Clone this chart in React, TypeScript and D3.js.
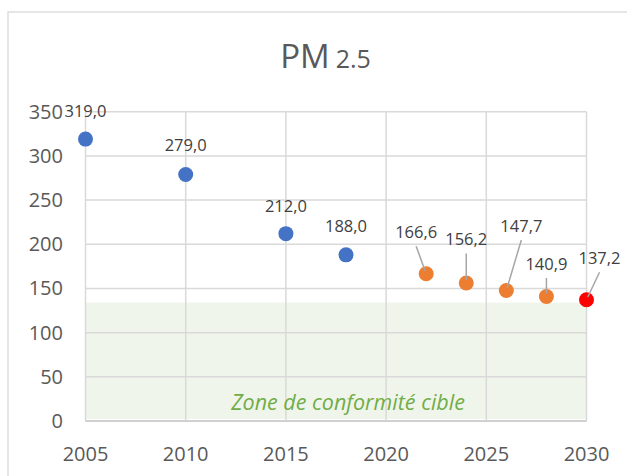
import React from "react";
import * as d3 from "d3";

const years = [2005, 2010, 2015, 2018, 2022, 2024, 2026, 2028, 2030];
const values = [319.0, 279.0, 212.0, 188.0, 166.6, 156.2, 147.7, 140.9, 137.2];
const kinds = ["mesure", "mesure", "mesure", "mesure", "projection", "projection", "projection", "projection", "cible"];
const yTicks = [0, 50, 100, 150, 200, 250, 300, 350];
const xTicks = [2005, 2010, 2015, 2020, 2025, 2030];
const zoneLimit = 134;
const zoneLabel = "Zone de conformité cible";
const titleMain = "PM";
const titleSub = "2.5";

// label offsets (layout only, px)
const labelOffsets: [number, number, boolean][] = [
  [0, -28, false],
  [0, -29, false],
  [0, -27, false],
  [0, -28, false],
  [-10, -41, true],
  [0, -43, true],
  [15, -64, true],
  [0, -32, true],
  [13, -41, true],
];

const colorOf: Record<string, string> = {
  mesure: "#4472C4",
  projection: "#ED7D31",
  cible: "#FF0000",
};

const W = 627;
const H = 476;
const M = { left: 85.5, right: 586.5, top: 111.7, bottom: 421 };
const FONT = "'Open Sans', 'Noto Sans', sans-serif";

export default function App() {
  const x = d3.scaleLinear().domain([2005, 2030]).range([M.left, M.right]);
  const y = d3.scaleLinear().domain([0, 350]).range([M.bottom, M.top]);
  const fmt = (v: number) => v.toFixed(1).replace(".", ",");

  return (
    <svg
      width={W}
      height={H}
      style={{ position: "absolute", left: 0, top: 0, display: "block", background: "#fff" }}
    >
      <rect x={8} y={12} width={700} height={600} fill="#fff" stroke="#D9D9D9" strokeWidth={1.3} />
      <text x={W / 2 + 12} y={68} textAnchor="middle" fill="#595959" fontFamily={FONT}>
        <tspan fontSize={33}>{titleMain}</tspan>
        <tspan fontSize={25} dx={6}>{titleSub}</tspan>
      </text>
      {/* zone */}
      <rect
        x={x(2005)}
        y={y(zoneLimit)}
        width={x(2030) - x(2005)}
        height={y(0) - y(zoneLimit) - 2}
        fill="#F0F5EC"
      />
      {/* gridlines */}
      {yTicks.map((t) => (
        <line key={"gy" + t} x1={M.left} x2={M.right} y1={y(t)} y2={y(t)} stroke="#D9D9D9" strokeWidth={1.5} />
      ))}
      {xTicks.map((t) => (
        <line key={"gx" + t} x1={x(t)} x2={x(t)} y1={M.top} y2={M.bottom} stroke="#D9D9D9" strokeWidth={1.5} />
      ))}
      <line x1={M.left} x2={M.right} y1={y(0)} y2={y(0)} stroke="#D0D0D0" strokeWidth={2} />
      {/* tick labels */}
      {yTicks.map((t) => (
        <text key={"ty" + t} x={63} y={y(t) + 7} textAnchor="end" fontSize={20} fill="#595959" fontFamily={FONT}>
          {t}
        </text>
      ))}
      {xTicks.map((t) => (
        <text key={"tx" + t} x={x(t)} y={461} textAnchor="middle" fontSize={20} fill="#595959" fontFamily={FONT}>
          {t}
        </text>
      ))}
      <text
        x={(x(2005) + x(2030)) / 2 + 12}
        y={410}
        textAnchor="middle"
        fontSize={21.5}
        fontStyle="italic"
        fill="#70AD47"
        fontFamily={FONT}
      >
        {zoneLabel}
      </text>
      {/* markers */}
      {years.map((yr, i) => (
        <circle key={"p" + yr} cx={x(yr)} cy={y(values[i])} r={7.5} fill={colorOf[kinds[i]]} />
      ))}
      {/* leader lines */}
      {years.map((yr, i) => {
        const [dx, dy, lead] = labelOffsets[i];
        if (!lead) return null;
        const px = x(yr);
        const py = y(values[i]);
        const sx = px + dx;
        const sy = py + dy + 13.5;
        const len = Math.hypot(px - sx, py - sy);
        const k = (len - 3) / len;
        return (
          <line
            key={"l" + yr}
            x1={sx}
            y1={sy}
            x2={sx + (px - sx) * k}
            y2={sy + (py - sy) * k}
            stroke="#A6A6A6"
            strokeWidth={1.5}
          />
        );
      })}
      {/* data labels */}
      {years.map((yr, i) => {
        const [dx, dy] = labelOffsets[i];
        return (
          <text
            key={"dl" + yr}
            x={x(yr) + dx}
            y={y(values[i]) + dy + 5.5}
            textAnchor="middle"
            fontSize={16.5}
            fill="#404040"
            fontFamily={FONT}
          >
            {fmt(values[i])}
          </text>
        );
      })}
    </svg>
  );
}
